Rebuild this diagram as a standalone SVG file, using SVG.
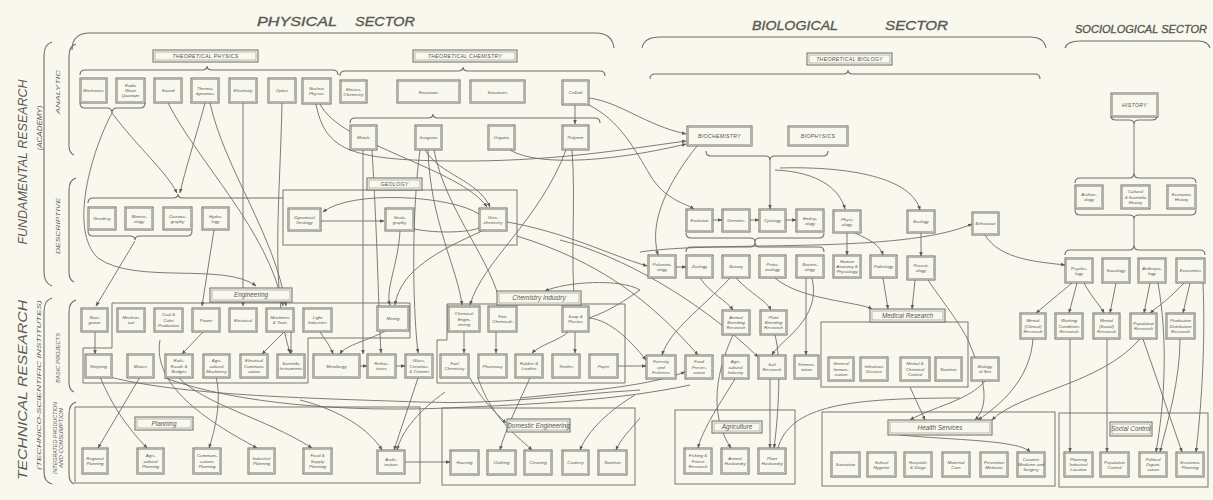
<svg xmlns="http://www.w3.org/2000/svg" width="1213" height="500" viewBox="0 0 1213 500">
<defs>
<marker id="ah" viewBox="0 0 6 6" refX="5.5" refY="3" markerWidth="5" markerHeight="5" orient="auto"><path d="M0,0.6 L6,3 L0,5.4 Z" fill="#5d5d55"/></marker>
<style>
.n{fill:#f9f8ee;stroke:#6b6b63;stroke-width:1}
.ni{fill:none;stroke:#8d8d85;stroke-width:0.6}
.t{font-family:"Liberation Sans",Arial,sans-serif;font-size:4.4px;font-style:italic;fill:#55554f;text-anchor:middle}
.lb{font-family:"Liberation Sans",Arial,sans-serif;font-size:5.2px;font-style:italic;fill:#55554f;text-anchor:middle;letter-spacing:0.3px}
.lw{font-family:"Liberation Sans",Arial,sans-serif;font-size:6.4px;font-style:italic;fill:#55554f;text-anchor:middle}
.c{fill:none;stroke:#6e6e66;stroke-width:0.9}
.a{marker-end:url(#ah)}
.br{fill:none;stroke:#6e6e66;stroke-width:1.1}
.box{fill:none;stroke:#77776f;stroke-width:1}
.hd{font-family:"Liberation Sans",Arial,sans-serif;font-style:italic;fill:#5a5a54;stroke:#5a5a54;stroke-width:0.35}
.sd{font-family:"Liberation Sans",Arial,sans-serif;font-style:italic;fill:#5a5a54;text-anchor:middle}
</style>
</defs>
<rect width="1213" height="500" fill="#f9f8ee"/>

<!-- headers -->
<g id="headers">
<text class="hd" x="257" y="26" font-size="12.5" textLength="80" lengthAdjust="spacingAndGlyphs">PHYSICAL</text>
<text class="hd" x="355" y="26" font-size="12.5" textLength="60" lengthAdjust="spacingAndGlyphs">SECTOR</text>
<text class="hd" x="752" y="30" font-size="13" textLength="86" lengthAdjust="spacingAndGlyphs">BIOLOGICAL</text>
<text class="hd" x="885" y="30" font-size="13" textLength="63" lengthAdjust="spacingAndGlyphs">SECTOR</text>
<text class="hd" x="1075" y="33" font-size="10" stroke-width="0.15" textLength="132" lengthAdjust="spacingAndGlyphs">SOCIOLOGICAL SECTOR</text>
<text class="sd" font-size="12" transform="translate(27,162) rotate(-90)" textLength="165" lengthAdjust="spacingAndGlyphs">FUNDAMENTAL    RESEARCH</text>
<text class="sd" font-size="6.5" transform="translate(42,128) rotate(-90)" textLength="45" lengthAdjust="spacingAndGlyphs">(ACADEMY)</text>
<text class="sd" font-size="12" transform="translate(27,390) rotate(-90)" textLength="180" lengthAdjust="spacingAndGlyphs">TECHNICAL    RESEARCH</text>
<text class="sd" font-size="6" transform="translate(41,385) rotate(-90)" textLength="170" lengthAdjust="spacingAndGlyphs">(TECHNICO-SCIENTIFIC INSTITUTES)</text>
<text class="sd" font-size="5" transform="translate(60,92) rotate(-90)" textLength="44" lengthAdjust="spacingAndGlyphs">ANALYTIC</text>
<text class="sd" font-size="5" transform="translate(60,226) rotate(-90)" textLength="56" lengthAdjust="spacingAndGlyphs">DESCRIPTIVE</text>
<text class="sd" font-size="5" transform="translate(60,358) rotate(-90)" textLength="50" lengthAdjust="spacingAndGlyphs">BASIC PROJECTS</text>
<text class="sd" font-size="4.8" transform="translate(57,438) rotate(-90)" textLength="72" lengthAdjust="spacingAndGlyphs">INTEGRATED PRODUCTION</text>
<text class="sd" font-size="4.8" transform="translate(63,438) rotate(-90)" textLength="60" lengthAdjust="spacingAndGlyphs">AND CONSUMPTION</text>
</g>

<!-- brackets and boxes -->
<g id="brackets">
<path class="br" d="M72,50 Q72,33 90,33 H596 Q612,33 614,48"/>
<path class="br" d="M642,48 Q644,37 660,37 H1030 Q1044,37 1046,48"/>
<path class="br" d="M1065,48 Q1067,41 1080,41 H1198 Q1208,41 1210,48"/>
<path class="br" d="M52,42 Q44,44 44,56 V272 Q44,283 52,286"/>
<path class="br" d="M76,44 Q69,46 69,56 V146 Q69,153 74,155"/>
<path class="br" d="M76,178 Q69,180 69,190 V272 Q69,280 74,282"/>
<path class="br" d="M52,298 Q44,300 44,312 V472 Q44,482 52,484"/>
<path class="br" d="M76,300 Q69,302 69,312 V382 Q69,390 74,392"/>
<path class="br" d="M76,402 Q69,404 69,414 V474 Q69,482 74,484"/>
<path class="br" d="M80,75 Q80,70 85,70 H202 Q207,70 207,66 Q207,70 212,70 H333 Q338,70 338,75"/>
<path class="br" d="M80,103 Q80,108 85,108 H107 Q112,108 112,113 Q112,108 117,108 H140 Q145,108 145,103"/>
<path class="br" d="M340,76 Q340,71 345,71 H458 Q463,71 463,67 Q463,71 468,71 H600 Q605,71 605,76"/>
<path class="br" d="M350,123 Q350,118 355,118 H428 Q433,118 433,114 Q433,118 438,118 H595 Q600,118 600,123"/>
<path class="br" d="M650,79 Q650,74 655,74 H843 Q848,74 848,70 Q848,74 853,74 H1035 Q1040,74 1040,79"/>
<path class="br" d="M706,151 Q706,156 711,156 H765 Q770,156 770,160 Q770,156 775,156 H823 Q828,156 828,151"/>
<path class="br" d="M686,233 Q686,238 691,238 H750 Q755,238 755,242 Q755,238 760,238 H819 Q824,238 824,233"/>
<path class="br" d="M686,252 Q686,247 691,247 H750 Q755,247 755,242 Q755,247 760,247 H819 Q824,247 824,252"/>
<path class="br" d="M88,203 Q88,198 93,198 H173 Q178,198 178,194 Q178,198 183,198 H283"/>
<path class="br" d="M88,231 Q88,236 93,236 H130 Q135,236 135,240 Q135,236 140,236 H187 Q192,236 192,231"/>
<path class="br" d="M1111,116 Q1111,120 1116,120 H1129 Q1134,120 1134,124 Q1134,120 1139,120 H1152 Q1157,120 1157,116"/>
<path class="c" d="M1134,124 V173"/>
<path class="br" d="M1075,183 Q1075,178 1080,178 H1129 Q1134,178 1134,173 Q1134,178 1139,178 H1191 Q1196,178 1196,183"/>
<path class="br" d="M1075,210 Q1075,215 1080,215 H1129 Q1134,215 1134,219 Q1134,215 1139,215 H1191 Q1196,215 1196,210"/>
<path class="c" d="M1134,219 V245"/>
<path class="br" d="M1065,255 Q1065,250 1070,250 H1129 Q1134,250 1134,245 Q1134,250 1139,250 H1200 Q1205,250 1205,255"/>
<rect class="box" x="283" y="190" width="234" height="55"/>
<path class="box" d="M112,303 H410 V338 H308 V383 H83 V348 H112 Z"/>
<path class="box" d="M447,304 H625 V383 H437 V340 H447 Z"/>
<rect class="box" x="75" y="407" width="345" height="76"/>
<rect class="box" x="442" y="408" width="193" height="77"/>
<rect class="box" x="675" y="410" width="120" height="74"/>
<rect class="box" x="822" y="412" width="233" height="74"/>
<rect class="box" x="1059" y="413" width="149" height="74"/>
<rect class="box" x="821" y="322" width="147" height="65"/>
</g>

<g id="connectors">
<path class="c a" d="M112,113 C92,150 68,230 98,258 C135,285 225,262 256,286"/>
<path class="c a" d="M112,113 C140,150 165,170 177,193"/>
<path class="c a" d="M205,103 C195,140 185,170 180,193"/>
<path class="c a" d="M210,103 C225,170 275,235 286,306"/>
<path class="c a" d="M168,103 C200,165 268,230 283,306"/>
<path class="c a" d="M243,103 V306"/>
<path class="c a" d="M282,103 C280,200 270,290 290,353"/>
<path class="c a" d="M135,241 L96,306"/>
<path class="c a" d="M214,230 L202,306"/>
<path class="c a" d="M321,221 H384"/>
<path class="c a" d="M479,214 C450,195 350,190 323,212"/>
<path class="c" d="M414,229 C440,234 470,232 479,228"/>
<path class="c a" d="M400,231 C398,265 385,290 390,305"/>
<path class="c a" d="M482,231 C440,250 400,270 395,305"/>
<path class="c a" d="M507,222 C565,232 610,255 647,266"/>
<path class="c a" d="M316,104 C325,150 350,160 450,161 C550,162 620,150 686,141"/>
<path class="c a" d="M575,105 V124"/>
<path class="c a" d="M589,98 C620,102 645,125 686,134"/>
<path class="c a" d="M587,104 C620,120 635,150 650,175 C665,200 685,203 694,209"/>
<path class="c a" d="M510,150 C540,168 620,160 686,144"/>
<path class="c a" d="M572,150 C576,200 570,260 575,305"/>
<path class="c a" d="M566,150 C540,220 482,262 470,305"/>
<path class="c a" d="M428,150 C430,220 458,270 462,305"/>
<path class="c a" d="M434,150 C445,210 495,265 500,305"/>
<path class="c a" d="M363,150 V354"/>
<path class="c a" d="M420,150 C412,210 412,300 418,353"/>
<path class="c a" d="M372,150 C378,250 378,300 381,353"/>
<path class="c a" d="M425,150 C440,175 478,180 490,207"/>
<path class="c a" d="M320,104 C340,145 460,168 487,207"/>
<path class="c a" d="M464,332 V353"/>
<path class="c a" d="M496,332 V353"/>
<path class="c a" d="M575,332 V353"/>
<path class="c a" d="M568,332 C560,340 540,345 532,353"/>
<path class="c a" d="M385,331 C370,340 345,345 340,354"/>
<path class="c a" d="M320,332 C325,340 330,345 333,354"/>
<path class="c a" d="M360,366 H367"/>
<path class="c a" d="M396,366 H405"/>
<path class="c a" d="M284,332 L262,354"/>
<path class="c a" d="M291,332 L291,354"/>
<path class="c a" d="M203,332 L182,354"/>
<path class="c a" d="M95,332 V354"/>
<path class="c a" d="M140,377 L98,448"/>
<path class="c a" d="M100,377 C112,405 125,425 147,448"/>
<path class="c a" d="M216,377 C222,400 215,430 209,448"/>
<path class="c a" d="M160,340 C152,385 205,420 257,448"/>
<path class="c a" d="M178,377 C205,405 265,418 312,448"/>
<path class="c" d="M110,377 C180,395 300,398 420,402 C500,405 560,395 640,390"/>
<path class="c" d="M165,378 C240,405 350,412 447,408 C540,404 620,400 690,385"/>
<path class="c a" d="M300,400 C340,410 370,430 382,450"/>
<path class="c a" d="M418,378 L394,450"/>
<path class="c a" d="M445,392 C420,410 402,430 397,450"/>
<path class="c a" d="M405,462 H450"/>
<path class="c a" d="M530,378 C520,400 505,430 500,450"/>
<path class="c a" d="M470,378 C480,398 495,412 506,423"/>
<path class="c a" d="M478,378 C492,420 522,440 532,450"/>
<path class="c a" d="M635,395 C610,410 588,430 580,450"/>
<path class="c a" d="M640,418 C630,430 620,440 616,450"/>
<path class="c a" d="M697,146 C670,180 648,220 658,255"/>
<path class="c a" d="M770,160 V209"/>
<path class="c a" d="M775,170 C820,172 840,190 845,209"/>
<path class="c a" d="M780,168 C850,166 912,178 920,210"/>
<path class="c a" d="M713,220 H722"/>
<path class="c a" d="M750,220 H759"/>
<path class="c a" d="M786,220 H796"/>
<path class="c a" d="M676,267 H686"/>
<path class="c a" d="M847,233 V255"/>
<path class="c a" d="M855,233 C870,240 880,245 883,255"/>
<path class="c a" d="M640,252 C720,240 900,255 972,224"/>
<path class="c a" d="M921,233 V256"/>
<path class="c a" d="M883,278 L888,309"/>
<path class="c a" d="M915,280 L912,309"/>
<path class="c a" d="M928,280 C945,305 965,330 970,345 C985,380 990,405 975,420"/>
<path class="c a" d="M985,235 C1000,260 1040,262 1065,265"/>
<path class="c a" d="M700,278 C712,295 726,300 733,310"/>
<path class="c a" d="M736,278 C752,295 766,300 771,310"/>
<path class="c a" d="M806,278 V355"/>
<path class="c a" d="M812,278 C822,320 780,340 772,355"/>
<path class="c a" d="M775,278 C800,300 860,302 872,309"/>
<path class="c a" d="M730,278 C700,310 670,330 662,355"/>
<path class="c a" d="M770,379 V448"/>
<path class="c a" d="M735,379 C722,400 702,430 698,448"/>
<path class="c a" d="M733,335 C712,380 712,420 731,448"/>
<path class="c a" d="M775,335 C782,360 778,420 774,448"/>
<path class="c a" d="M910,387 L925,420"/>
<path class="c a" d="M985,381 C970,400 930,408 910,420"/>
<path class="c a" d="M900,435 C950,440 1020,440 1030,452"/>
<path class="c" d="M778,448 C790,405 850,398 960,398"/>
<path class="c a" d="M1033,339 C1030,380 1000,405 978,420"/>
<path class="c a" d="M1070,339 V452"/>
<path class="c a" d="M1107,339 V452"/>
<path class="c a" d="M1143,339 L1182,452"/>
<path class="c a" d="M1180,339 C1180,380 1168,420 1160,452"/>
<path class="c a" d="M1203,283 C1206,350 1200,420 1196,452"/>
<path class="c a" d="M1140,339 C1100,385 1020,392 992,420"/>
<path class="c a" d="M1072,283 L1036,313"/>
<path class="c a" d="M1077,283 L1069,313"/>
<path class="c a" d="M1084,283 C1092,298 1100,305 1104,313"/>
<path class="c a" d="M1116,283 L1110,313"/>
<path class="c a" d="M1150,283 L1144,313"/>
<path class="c a" d="M1184,283 C1170,298 1160,305 1150,313"/>
<path class="c a" d="M1190,283 L1183,313"/>
<path class="c a" d="M1158,283 C1168,340 1165,400 1156,452"/>
<path class="c a" d="M589,318 C610,320 630,340 646,360"/>
<path class="c a" d="M618,366 H646"/>
<path class="c a" d="M560,240 C620,255 700,300 758,357"/>
<path class="c a" d="M517,236 C600,262 650,300 698,355"/>
<path class="c a" d="M640,290 C620,278 565,282 545,291"/>
<path class="c" d="M589,318 C612,310 625,300 640,290"/>
<path class="c a" d="M520,398 C600,390 650,385 685,372"/>
</g>

<g id="labels">
<g id="l-thphys"><rect class="n" x="153" y="50" width="105" height="12"/><rect class="ni" x="155" y="52" width="101" height="8"/><text class="lb" x="205.5" y="58.2">THEORETICAL PHYSICS</text></g>
<g id="l-thchem"><rect class="n" x="413" y="50" width="104" height="12"/><rect class="ni" x="415" y="52" width="100" height="8"/><text class="lb" x="465" y="58.2">THEORETICAL CHEMISTRY</text></g>
<g id="l-thbio"><rect class="n" x="807" y="53" width="85" height="12"/><rect class="ni" x="809" y="55" width="81" height="8"/><text class="lb" x="849.5" y="61.2">THEORETICAL BIOLOGY</text></g>
<g id="l-geology"><rect class="n" x="367" y="178" width="55" height="12"/><rect class="ni" x="369" y="180" width="51" height="8"/><text class="lb" x="394.5" y="186.2">GEOLOGY</text></g>
<g id="l-eng"><rect class="n" x="210" y="288" width="82" height="14"/><rect class="ni" x="212" y="290" width="78" height="10"/><text class="lw" x="251" y="297.3">Engineering</text></g>
<g id="l-chemind"><rect class="n" x="497" y="291" width="84" height="14"/><rect class="ni" x="499" y="293" width="80" height="10"/><text class="lw" x="539" y="300.3">Chemistry Industry</text></g>
<g id="l-planning"><rect class="n" x="135" y="417" width="58" height="13"/><rect class="ni" x="137" y="419" width="54" height="9"/><text class="lw" x="164" y="425.8">Planning</text></g>
<g id="l-domeng"><rect class="n" x="507" y="419" width="63" height="13"/><rect class="ni" x="509" y="421" width="59" height="9"/><text class="lw" x="538.5" y="427.8" font-size="5.6">Domestic Engineering</text></g>
<g id="l-agri"><rect class="n" x="712" y="421" width="50" height="12"/><rect class="ni" x="714" y="423" width="46" height="8"/><text class="lw" x="737" y="429.3" font-size="5.8">Agriculture</text></g>
<g id="l-health"><rect class="n" x="888" y="420" width="104" height="15"/><rect class="ni" x="890" y="422" width="100" height="11"/><text class="lw" x="940" y="430">Health   Services</text></g>
<g id="l-social"><rect class="n" x="1110" y="422" width="42" height="14"/><rect class="ni" x="1112" y="424" width="38" height="10"/><text class="lw" x="1131" y="431.3" font-size="5">Social Control</text></g>
<g id="l-medres"><rect class="n" x="870" y="309" width="75" height="13"/><rect class="ni" x="872" y="311" width="71" height="9"/><text class="lw" x="907.5" y="317.8" font-size="5.8">Medical Research</text></g>
</g>

<g id="nodes">
<g id="n-mechanics"><rect class="n" x="80" y="78" width="27" height="25"/><rect class="ni" x="81.5" y="79.5" width="24" height="22"/><text class="t" x="93.5" y="92.1">Mechanics</text></g>
<g id="n-radio"><rect class="n" x="116" y="78" width="29" height="25"/><rect class="ni" x="117.5" y="79.5" width="26" height="22"/><text class="t" x="130.5" y="86.9"><tspan x="130.5">Radio</tspan><tspan x="130.5" dy="5.2">Wave</tspan><tspan x="130.5" dy="5.2">Quantum</tspan></text></g>
<g id="n-sound"><rect class="n" x="154" y="78" width="28" height="25"/><rect class="ni" x="155.5" y="79.5" width="25" height="22"/><text class="t" x="168" y="92.1">Sound</text></g>
<g id="n-thermo"><rect class="n" x="191" y="78" width="28" height="25"/><rect class="ni" x="192.5" y="79.5" width="25" height="22"/><text class="t" x="205" y="89.5"><tspan x="205">Thermo-</tspan><tspan x="205" dy="5.2">dynamics</tspan></text></g>
<g id="n-electricity"><rect class="n" x="229" y="78" width="28" height="25"/><rect class="ni" x="230.5" y="79.5" width="25" height="22"/><text class="t" x="243" y="92.1" font-size="4">Electricity</text></g>
<g id="n-optics"><rect class="n" x="268" y="78" width="28" height="25"/><rect class="ni" x="269.5" y="79.5" width="25" height="22"/><text class="t" x="282" y="92.1">Optics</text></g>
<g id="n-nuclear"><rect class="n" x="302" y="78" width="29" height="26"/><rect class="ni" x="303.5" y="79.5" width="26" height="23"/><text class="t" x="316.5" y="90"><tspan x="316.5">Nuclear</tspan><tspan x="316.5" dy="5.2">Physics</tspan></text></g>
<g id="n-electrochem"><rect class="n" x="340" y="80" width="27" height="23"/><rect class="ni" x="341.5" y="81.5" width="24" height="20"/><text class="t" x="353.5" y="90.5"><tspan x="353.5">Electro-</tspan><tspan x="353.5" dy="5.2">Chemistry</tspan></text></g>
<g id="n-reactions"><rect class="n" x="397" y="80" width="63" height="23"/><rect class="ni" x="398.5" y="81.5" width="60" height="20"/><text class="t" x="428.5" y="93.5" font-size="6">Reactions</text></g>
<g id="n-structures"><rect class="n" x="470" y="80" width="55" height="23"/><rect class="ni" x="471.5" y="81.5" width="52" height="20"/><text class="t" x="497.5" y="93.5" font-size="6">Structures</text></g>
<g id="n-colloid"><rect class="n" x="562" y="80" width="27" height="25"/><rect class="ni" x="563.5" y="81.5" width="24" height="22"/><text class="t" x="575.5" y="94.1">Colloid</text></g>
<g id="n-metals"><rect class="n" x="350" y="125" width="27" height="25"/><rect class="ni" x="351.5" y="126.5" width="24" height="22"/><text class="t" x="363.5" y="139.1">Metals</text></g>
<g id="n-inorganic"><rect class="n" x="415" y="125" width="27" height="25"/><rect class="ni" x="416.5" y="126.5" width="24" height="22"/><text class="t" x="428.5" y="139.1">Inorganic</text></g>
<g id="n-organic"><rect class="n" x="488" y="125" width="27" height="25"/><rect class="ni" x="489.5" y="126.5" width="24" height="22"/><text class="t" x="501.5" y="139.1">Organic</text></g>
<g id="n-polymer"><rect class="n" x="562" y="125" width="27" height="25"/><rect class="ni" x="563.5" y="126.5" width="24" height="22"/><text class="t" x="575.5" y="139.1">Polymer</text></g>

<g id="n-geodesy"><rect class="n" x="88" y="207" width="28" height="23"/><rect class="ni" x="89.5" y="208.5" width="25" height="20"/><text class="t" x="102" y="220.1">Geodesy</text></g>
<g id="n-meteorology"><rect class="n" x="125" y="207" width="28" height="23"/><rect class="ni" x="126.5" y="208.5" width="25" height="20"/><text class="t" x="139" y="217.5"><tspan x="139">Meteor-</tspan><tspan x="139" dy="5.2">ology</tspan></text></g>
<g id="n-oceanography"><rect class="n" x="163" y="207" width="29" height="23"/><rect class="ni" x="164.5" y="208.5" width="26" height="20"/><text class="t" x="177.5" y="217.5"><tspan x="177.5">Oceano-</tspan><tspan x="177.5" dy="5.2">graphy</tspan></text></g>
<g id="n-hydrology"><rect class="n" x="202" y="207" width="27" height="23"/><rect class="ni" x="203.5" y="208.5" width="24" height="20"/><text class="t" x="215.5" y="217.5"><tspan x="215.5">Hydro-</tspan><tspan x="215.5" dy="5.2">logy</tspan></text></g>
<g id="n-dyngeo"><rect class="n" x="288" y="208" width="33" height="23"/><rect class="ni" x="289.5" y="209.5" width="30" height="20"/><text class="t" x="304.5" y="218.5"><tspan x="304.5">Dynamical</tspan><tspan x="304.5" dy="5.2">Geology</tspan></text></g>
<g id="n-strat"><rect class="n" x="385" y="208" width="29" height="23"/><rect class="ni" x="386.5" y="209.5" width="26" height="20"/><text class="t" x="399.5" y="218.5"><tspan x="399.5">Strati-</tspan><tspan x="399.5" dy="5.2">graphy</tspan></text></g>
<g id="n-geochem"><rect class="n" x="479" y="208" width="28" height="23"/><rect class="ni" x="480.5" y="209.5" width="25" height="20"/><text class="t" x="493" y="218.5"><tspan x="493">Geo-</tspan><tspan x="493" dy="5.2">chemistry</tspan></text></g>

<g id="n-navigation"><rect class="n" x="81" y="308" width="27" height="24"/><rect class="ni" x="82.5" y="309.5" width="24" height="21"/><text class="t" x="94.5" y="319"><tspan x="94.5">Navi-</tspan><tspan x="94.5" dy="5.2">gation</tspan></text></g>
<g id="n-mechanical"><rect class="n" x="117" y="308" width="28" height="24"/><rect class="ni" x="118.5" y="309.5" width="25" height="21"/><text class="t" x="131" y="319"><tspan x="131">Mechan-</tspan><tspan x="131" dy="5.2">ical</tspan></text></g>
<g id="n-coal"><rect class="n" x="154" y="308" width="29" height="24"/><rect class="ni" x="155.5" y="309.5" width="26" height="21"/><text class="t" x="168.5" y="316.4"><tspan x="168.5">Coal &amp;</tspan><tspan x="168.5" dy="5.2">Coke</tspan><tspan x="168.5" dy="5.2">Production</tspan></text></g>
<g id="n-power"><rect class="n" x="192" y="308" width="28" height="24"/><rect class="ni" x="193.5" y="309.5" width="25" height="21"/><text class="t" x="206" y="321.6">Power</text></g>
<g id="n-electrical"><rect class="n" x="229" y="308" width="28" height="24"/><rect class="ni" x="230.5" y="309.5" width="25" height="21"/><text class="t" x="243" y="321.6">Electrical</text></g>
<g id="n-machines"><rect class="n" x="266" y="308" width="28" height="24"/><rect class="ni" x="267.5" y="309.5" width="25" height="21"/><text class="t" x="280" y="319"><tspan x="280">Machines</tspan><tspan x="280" dy="5.2">&amp; Tools</tspan></text></g>
<g id="n-light"><rect class="n" x="303" y="308" width="29" height="24"/><rect class="ni" x="304.5" y="309.5" width="26" height="21"/><text class="t" x="317.5" y="319"><tspan x="317.5">Light</tspan><tspan x="317.5" dy="5.2">Industries</tspan></text></g>
<g id="n-mining"><rect class="n" x="377" y="306" width="32" height="25"/><rect class="ni" x="378.5" y="307.5" width="29" height="22"/><text class="t" x="393" y="320.1">Mining</text></g>
<g id="n-chemeng"><rect class="n" x="448" y="306" width="32" height="26"/><rect class="ni" x="449.5" y="307.5" width="29" height="23"/><text class="t" x="464" y="315.4"><tspan x="464">Chemical</tspan><tspan x="464" dy="5.2">Engin-</tspan><tspan x="464" dy="5.2">eering</tspan></text></g>
<g id="n-finechem"><rect class="n" x="488" y="306" width="29" height="26"/><rect class="ni" x="489.5" y="307.5" width="26" height="23"/><text class="t" x="502.5" y="318"><tspan x="502.5">Fine</tspan><tspan x="502.5" dy="5.2">Chemicals</tspan></text></g>
<g id="n-soap"><rect class="n" x="562" y="306" width="27" height="26"/><rect class="ni" x="563.5" y="307.5" width="24" height="23"/><text class="t" x="575.5" y="318"><tspan x="575.5">Soap &amp;</tspan><tspan x="575.5" dy="5.2">Plastics</tspan></text></g>

<g id="n-shipping"><rect class="n" x="85" y="354" width="27" height="24"/><rect class="ni" x="86.5" y="355.5" width="24" height="21"/><text class="t" x="98.5" y="367.6">Shipping</text></g>
<g id="n-motors"><rect class="n" x="127" y="354" width="27" height="24"/><rect class="ni" x="128.5" y="355.5" width="24" height="21"/><text class="t" x="140.5" y="367.6">Motors</text></g>
<g id="n-rails"><rect class="n" x="165" y="354" width="28" height="24"/><rect class="ni" x="166.5" y="355.5" width="25" height="21"/><text class="t" x="179" y="362.4"><tspan x="179">Rails,</tspan><tspan x="179" dy="5.2">Roads &amp;</tspan><tspan x="179" dy="5.2">Bridges</tspan></text></g>
<g id="n-agrimach"><rect class="n" x="203" y="354" width="27" height="24"/><rect class="ni" x="204.5" y="355.5" width="24" height="21"/><text class="t" x="216.5" y="362.4"><tspan x="216.5">Agri-</tspan><tspan x="216.5" dy="5.2">cultural</tspan><tspan x="216.5" dy="5.2">Machinery</tspan></text></g>
<g id="n-elcomm"><rect class="n" x="240" y="354" width="28" height="24"/><rect class="ni" x="241.5" y="355.5" width="25" height="21"/><text class="t" x="254" y="362.4"><tspan x="254">Electrical</tspan><tspan x="254" dy="5.2">Communi-</tspan><tspan x="254" dy="5.2">cation</tspan></text></g>
<g id="n-sciinst"><rect class="n" x="277" y="354" width="28" height="24"/><rect class="ni" x="278.5" y="355.5" width="25" height="21"/><text class="t" x="291" y="365" font-size="3.9"><tspan x="291">Scientific</tspan><tspan x="291" dy="5.2">Instruments</tspan></text></g>
<g id="n-metallurgy"><rect class="n" x="313" y="354" width="47" height="24"/><rect class="ni" x="314.5" y="355.5" width="44" height="21"/><text class="t" x="336.5" y="367.6">Metallurgy</text></g>
<g id="n-refract"><rect class="n" x="367" y="354" width="29" height="24"/><rect class="ni" x="368.5" y="355.5" width="26" height="21"/><text class="t" x="381.5" y="365"><tspan x="381.5">Refrac-</tspan><tspan x="381.5" dy="5.2">tories</tspan></text></g>
<g id="n-glass"><rect class="n" x="405" y="354" width="28" height="24"/><rect class="ni" x="406.5" y="355.5" width="25" height="21"/><text class="t" x="419" y="362.4"><tspan x="419">Glass,</tspan><tspan x="419" dy="5.2">Ceramics</tspan><tspan x="419" dy="5.2">&amp; Cement</tspan></text></g>
<g id="n-fuel"><rect class="n" x="440" y="354" width="29" height="24"/><rect class="ni" x="441.5" y="355.5" width="26" height="21"/><text class="t" x="454.5" y="365"><tspan x="454.5">Fuel</tspan><tspan x="454.5" dy="5.2">Chemistry</tspan></text></g>
<g id="n-pharmacy"><rect class="n" x="478" y="354" width="29" height="24"/><rect class="ni" x="479.5" y="355.5" width="26" height="21"/><text class="t" x="492.5" y="367.6">Pharmacy</text></g>
<g id="n-rubber"><rect class="n" x="515" y="354" width="28" height="24"/><rect class="ni" x="516.5" y="355.5" width="25" height="21"/><text class="t" x="529" y="365"><tspan x="529">Rubber &amp;</tspan><tspan x="529" dy="5.2">Leather</tspan></text></g>
<g id="n-textiles"><rect class="n" x="552" y="354" width="28" height="24"/><rect class="ni" x="553.5" y="355.5" width="25" height="21"/><text class="t" x="566" y="367.6">Textiles</text></g>
<g id="n-paper"><rect class="n" x="589" y="354" width="29" height="24"/><rect class="ni" x="590.5" y="355.5" width="26" height="21"/><text class="t" x="603.5" y="367.6">Paper</text></g>

<g id="n-regional"><rect class="n" x="82" y="448" width="26" height="26"/><rect class="ni" x="83.5" y="449.5" width="23" height="23"/><text class="t" x="95" y="460"><tspan x="95">Regional</tspan><tspan x="95" dy="5.2">Planning</tspan></text></g>
<g id="n-agriplan"><rect class="n" x="137" y="448" width="27" height="26"/><rect class="ni" x="138.5" y="449.5" width="24" height="23"/><text class="t" x="150.5" y="457.4"><tspan x="150.5">Agri-</tspan><tspan x="150.5" dy="5.2">cultural</tspan><tspan x="150.5" dy="5.2">Planning</tspan></text></g>
<g id="n-commplan"><rect class="n" x="193" y="448" width="28" height="26"/><rect class="ni" x="194.5" y="449.5" width="25" height="23"/><text class="t" x="207" y="457.4"><tspan x="207">Communi-</tspan><tspan x="207" dy="5.2">cations</tspan><tspan x="207" dy="5.2">Planning</tspan></text></g>
<g id="n-indplan"><rect class="n" x="248" y="448" width="27" height="26"/><rect class="ni" x="249.5" y="449.5" width="24" height="23"/><text class="t" x="261.5" y="460"><tspan x="261.5">Industrial</tspan><tspan x="261.5" dy="5.2">Planning</tspan></text></g>
<g id="n-foodplan"><rect class="n" x="303" y="448" width="29" height="26"/><rect class="ni" x="304.5" y="449.5" width="26" height="23"/><text class="t" x="317.5" y="457.4"><tspan x="317.5">Food &amp;</tspan><tspan x="317.5" dy="5.2">Supply</tspan><tspan x="317.5" dy="5.2">Planning</tspan></text></g>
<g id="n-architecture"><rect class="n" x="377" y="450" width="28" height="24"/><rect class="ni" x="378.5" y="451.5" width="25" height="21"/><text class="t" x="391" y="461"><tspan x="391">Archi-</tspan><tspan x="391" dy="5.2">tecture</tspan></text></g>

<g id="n-housing"><rect class="n" x="450" y="450" width="29" height="25"/><rect class="ni" x="451.5" y="451.5" width="26" height="22"/><text class="t" x="464.5" y="464.1">Housing</text></g>
<g id="n-clothing"><rect class="n" x="487" y="450" width="29" height="25"/><rect class="ni" x="488.5" y="451.5" width="26" height="22"/><text class="t" x="501.5" y="464.1">Clothing</text></g>
<g id="n-cleaning"><rect class="n" x="524" y="450" width="28" height="25"/><rect class="ni" x="525.5" y="451.5" width="25" height="22"/><text class="t" x="538" y="464.1">Cleaning</text></g>
<g id="n-cookery"><rect class="n" x="562" y="450" width="27" height="25"/><rect class="ni" x="563.5" y="451.5" width="24" height="22"/><text class="t" x="575.5" y="464.1">Cookery</text></g>
<g id="n-nutrition"><rect class="n" x="598" y="450" width="29" height="25"/><rect class="ni" x="599.5" y="451.5" width="26" height="22"/><text class="t" x="612.5" y="464.1">Nutrition</text></g>

<g id="n-fishres"><rect class="n" x="684" y="448" width="28" height="26"/><rect class="ni" x="685.5" y="449.5" width="25" height="23"/><text class="t" x="698" y="457.4"><tspan x="698">Fishing &amp;</tspan><tspan x="698" dy="5.2">Forest</tspan><tspan x="698" dy="5.2">Research</tspan></text></g>
<g id="n-animhus"><rect class="n" x="721" y="448" width="28" height="26"/><rect class="ni" x="722.5" y="449.5" width="25" height="23"/><text class="t" x="735" y="460"><tspan x="735">Animal</tspan><tspan x="735" dy="5.2">Husbandry</tspan></text></g>
<g id="n-planthus"><rect class="n" x="758" y="448" width="28" height="26"/><rect class="ni" x="759.5" y="449.5" width="25" height="23"/><text class="t" x="772" y="460"><tspan x="772">Plant</tspan><tspan x="772" dy="5.2">Husbandry</tspan></text></g>

<g id="n-sanitation"><rect class="n" x="831" y="452" width="29" height="25"/><rect class="ni" x="832.5" y="453.5" width="26" height="22"/><text class="t" x="845.5" y="466.1">Sanitation</text></g>
<g id="n-hygiene"><rect class="n" x="867" y="452" width="29" height="25"/><rect class="ni" x="868.5" y="453.5" width="26" height="22"/><text class="t" x="881.5" y="463.5"><tspan x="881.5">School</tspan><tspan x="881.5" dy="5.2">Hygiene</tspan></text></g>
<g id="n-drugs"><rect class="n" x="904" y="452" width="28" height="25"/><rect class="ni" x="905.5" y="453.5" width="25" height="22"/><text class="t" x="918" y="463.5"><tspan x="918">Hospitals</tspan><tspan x="918" dy="5.2">&amp; Drugs</tspan></text></g>
<g id="n-maternal"><rect class="n" x="942" y="452" width="28" height="25"/><rect class="ni" x="943.5" y="453.5" width="25" height="22"/><text class="t" x="956" y="463.5"><tspan x="956">Maternal</tspan><tspan x="956" dy="5.2">Care</tspan></text></g>
<g id="n-preventive"><rect class="n" x="980" y="452" width="28" height="25"/><rect class="ni" x="981.5" y="453.5" width="25" height="22"/><text class="t" x="994" y="463.5"><tspan x="994">Preventive</tspan><tspan x="994" dy="5.2">Medicine</tspan></text></g>
<g id="n-curative"><rect class="n" x="1017" y="452" width="28" height="25"/><rect class="ni" x="1018.5" y="453.5" width="25" height="22"/><text class="t" x="1031" y="460.9"><tspan x="1031">Curative</tspan><tspan x="1031" dy="5.2">Medicine and</tspan><tspan x="1031" dy="5.2">Surgery</tspan></text></g>

<g id="n-indloc"><rect class="n" x="1064" y="452" width="29" height="25"/><rect class="ni" x="1065.5" y="453.5" width="26" height="22"/><text class="t" x="1078.5" y="460.9"><tspan x="1078.5">Planning</tspan><tspan x="1078.5" dy="5.2">Industrial</tspan><tspan x="1078.5" dy="5.2">Location</tspan></text></g>
<g id="n-popctrl"><rect class="n" x="1100" y="452" width="29" height="25"/><rect class="ni" x="1101.5" y="453.5" width="26" height="22"/><text class="t" x="1114.5" y="463.5"><tspan x="1114.5">Population</tspan><tspan x="1114.5" dy="5.2">Control</tspan></text></g>
<g id="n-polorg"><rect class="n" x="1139" y="452" width="28" height="25"/><rect class="ni" x="1140.5" y="453.5" width="25" height="22"/><text class="t" x="1153" y="460.9"><tspan x="1153">Political</tspan><tspan x="1153" dy="5.2">Organi-</tspan><tspan x="1153" dy="5.2">sation</tspan></text></g>
<g id="n-econplan"><rect class="n" x="1176" y="452" width="28" height="25"/><rect class="ni" x="1177.5" y="453.5" width="25" height="22"/><text class="t" x="1190" y="463.5"><tspan x="1190">Economic</tspan><tspan x="1190" dy="5.2">Planning</tspan></text></g>

<g id="n-forestry"><rect class="n" x="646" y="355" width="30" height="24"/><rect class="ni" x="647.5" y="356.5" width="27" height="21"/><text class="t" x="661" y="363.4"><tspan x="661">Forestry</tspan><tspan x="661" dy="5.2">and</tspan><tspan x="661" dy="5.2">Fisheries</tspan></text></g>
<g id="n-foodpres"><rect class="n" x="685" y="355" width="28" height="24"/><rect class="ni" x="686.5" y="356.5" width="25" height="21"/><text class="t" x="699" y="363.4"><tspan x="699">Food</tspan><tspan x="699" dy="5.2">Preser-</tspan><tspan x="699" dy="5.2">vation</tspan></text></g>
<g id="n-agriind"><rect class="n" x="722" y="355" width="27" height="24"/><rect class="ni" x="723.5" y="356.5" width="24" height="21"/><text class="t" x="735.5" y="363.4"><tspan x="735.5">Agri-</tspan><tspan x="735.5" dy="5.2">cultural</tspan><tspan x="735.5" dy="5.2">Industry</tspan></text></g>
<g id="n-soil"><rect class="n" x="758" y="355" width="28" height="24"/><rect class="ni" x="759.5" y="356.5" width="25" height="21"/><text class="t" x="772" y="366"><tspan x="772">Soil</tspan><tspan x="772" dy="5.2">Research</tspan></text></g>
<g id="n-ferment"><rect class="n" x="794" y="355" width="25" height="24"/><rect class="ni" x="795.5" y="356.5" width="22" height="21"/><text class="t" x="806.5" y="366"><tspan x="806.5">Fermen-</tspan><tspan x="806.5" dy="5.2">tation</tspan></text></g>
<g id="n-immun"><rect class="n" x="828" y="357" width="26" height="24"/><rect class="ni" x="829.5" y="358.5" width="23" height="21"/><text class="t" x="841" y="365.4"><tspan x="841">General</tspan><tspan x="841" dy="5.2">Immun-</tspan><tspan x="841" dy="5.2">isation</tspan></text></g>
<g id="n-infect"><rect class="n" x="860" y="357" width="28" height="24"/><rect class="ni" x="861.5" y="358.5" width="25" height="21"/><text class="t" x="874" y="368"><tspan x="874">Infectious</tspan><tspan x="874" dy="5.2">Disease</tspan></text></g>
<g id="n-mentalchem"><rect class="n" x="900" y="357" width="30" height="24"/><rect class="ni" x="901.5" y="358.5" width="27" height="21"/><text class="t" x="915" y="365.4"><tspan x="915">Mental &amp;</tspan><tspan x="915" dy="5.2">Chemical</tspan><tspan x="915" dy="5.2">Control</tspan></text></g>
<g id="n-nutr2"><rect class="n" x="935" y="357" width="27" height="24"/><rect class="ni" x="936.5" y="358.5" width="24" height="21"/><text class="t" x="948.5" y="370.6">Nutrition</text></g>
<g id="n-sexbio"><rect class="n" x="971" y="357" width="28" height="24"/><rect class="ni" x="972.5" y="358.5" width="25" height="21"/><text class="t" x="985" y="368"><tspan x="985">Biology</tspan><tspan x="985" dy="5.2">of Sex</tspan></text></g>

<g id="n-animbreed"><rect class="n" x="722" y="310" width="28" height="25"/><rect class="ni" x="723.5" y="311.5" width="25" height="22"/><text class="t" x="736" y="318.9"><tspan x="736">Animal</tspan><tspan x="736" dy="5.2">Breeding</tspan><tspan x="736" dy="5.2">Research</tspan></text></g>
<g id="n-plantbreed"><rect class="n" x="760" y="310" width="27" height="25"/><rect class="ni" x="761.5" y="311.5" width="24" height="22"/><text class="t" x="773.5" y="318.9"><tspan x="773.5">Plant</tspan><tspan x="773.5" dy="5.2">Breeding</tspan><tspan x="773.5" dy="5.2">Research</tspan></text></g>

<g id="n-evolution"><rect class="n" x="686" y="209" width="27" height="23"/><rect class="ni" x="687.5" y="210.5" width="24" height="20"/><text class="t" x="699.5" y="222.1">Evolution</text></g>
<g id="n-genetics"><rect class="n" x="722" y="209" width="28" height="23"/><rect class="ni" x="723.5" y="210.5" width="25" height="20"/><text class="t" x="736" y="222.1">Genetics</text></g>
<g id="n-cytology"><rect class="n" x="759" y="209" width="27" height="23"/><rect class="ni" x="760.5" y="210.5" width="24" height="20"/><text class="t" x="772.5" y="222.1">Cytology</text></g>
<g id="n-embryology"><rect class="n" x="796" y="209" width="28" height="23"/><rect class="ni" x="797.5" y="210.5" width="25" height="20"/><text class="t" x="810" y="219.5"><tspan x="810">Embry-</tspan><tspan x="810" dy="5.2">ology</tspan></text></g>
<g id="n-physiology"><rect class="n" x="833" y="210" width="28" height="23"/><rect class="ni" x="834.5" y="211.5" width="25" height="20"/><text class="t" x="847" y="220.5"><tspan x="847">Physi-</tspan><tspan x="847" dy="5.2">ology</tspan></text></g>
<g id="n-ecology"><rect class="n" x="907" y="210" width="28" height="23"/><rect class="ni" x="908.5" y="211.5" width="25" height="20"/><text class="t" x="921" y="223.1">Ecology</text></g>
<g id="n-behaviour"><rect class="n" x="972" y="212" width="27" height="23"/><rect class="ni" x="973.5" y="213.5" width="24" height="20"/><text class="t" x="985.5" y="225.1">Behaviour</text></g>
<g id="n-palaeont"><rect class="n" x="648" y="255" width="28" height="23"/><rect class="ni" x="649.5" y="256.5" width="25" height="20"/><text class="t" x="662" y="265.5"><tspan x="662">Palaeont-</tspan><tspan x="662" dy="5.2">ology</tspan></text></g>
<g id="n-zoology"><rect class="n" x="686" y="255" width="27" height="23"/><rect class="ni" x="687.5" y="256.5" width="24" height="20"/><text class="t" x="699.5" y="268.1">Zoology</text></g>
<g id="n-botany"><rect class="n" x="722" y="255" width="28" height="23"/><rect class="ni" x="723.5" y="256.5" width="25" height="20"/><text class="t" x="736" y="268.1">Botany</text></g>
<g id="n-protozo"><rect class="n" x="759" y="255" width="27" height="23"/><rect class="ni" x="760.5" y="256.5" width="24" height="20"/><text class="t" x="772.5" y="265.5"><tspan x="772.5">Proto-</tspan><tspan x="772.5" dy="5.2">zoology</tspan></text></g>
<g id="n-bacteri"><rect class="n" x="796" y="255" width="28" height="23"/><rect class="ni" x="797.5" y="256.5" width="25" height="20"/><text class="t" x="810" y="265.5"><tspan x="810">Bacteri-</tspan><tspan x="810" dy="5.2">ology</tspan></text></g>
<g id="n-humanat"><rect class="n" x="833" y="255" width="28" height="23"/><rect class="ni" x="834.5" y="256.5" width="25" height="20"/><text class="t" x="847" y="262.9" font-size="4"><tspan x="847">Human</tspan><tspan x="847" dy="5.2">Anatomy &amp;</tspan><tspan x="847" dy="5.2">Physiology</tspan></text></g>
<g id="n-pathology"><rect class="n" x="870" y="255" width="27" height="23"/><rect class="ni" x="871.5" y="256.5" width="24" height="20"/><text class="t" x="883.5" y="268.1">Pathology</text></g>
<g id="n-parasit"><rect class="n" x="907" y="256" width="28" height="24"/><rect class="ni" x="908.5" y="257.5" width="25" height="21"/><text class="t" x="921" y="267"><tspan x="921">Parasit-</tspan><tspan x="921" dy="5.2">ology</tspan></text></g>

<g id="n-biochem"><rect class="n" x="687" y="126" width="65" height="20"/><rect class="ni" x="688.5" y="127.5" width="62" height="17"/><text class="lb" x="719.5" y="138.2">BIOCHEMISTRY</text></g>
<g id="n-biophysics"><rect class="n" x="788" y="126" width="60" height="20"/><rect class="ni" x="789.5" y="127.5" width="57" height="17"/><text class="lb" x="818" y="138.2">BIOPHYSICS</text></g>
<g id="n-history"><rect class="n" x="1111" y="93" width="47" height="24"/><rect class="ni" x="1112.5" y="94.5" width="44" height="21"/><text class="lb" x="1134.5" y="107">HISTORY</text></g>
<g id="n-archaeology"><rect class="n" x="1075" y="185" width="28" height="24"/><rect class="ni" x="1076.5" y="186.5" width="25" height="21"/><text class="t" x="1089" y="196"><tspan x="1089">Archae-</tspan><tspan x="1089" dy="5.2">ology</tspan></text></g>
<g id="n-cultural"><rect class="n" x="1121" y="185" width="29" height="24"/><rect class="ni" x="1122.5" y="186.5" width="26" height="21"/><text class="t" x="1135.5" y="193.4" font-size="4"><tspan x="1135.5">Cultural</tspan><tspan x="1135.5" dy="5.2">&amp; Scientific</tspan><tspan x="1135.5" dy="5.2">History</tspan></text></g>
<g id="n-econhist"><rect class="n" x="1167" y="185" width="29" height="24"/><rect class="ni" x="1168.5" y="186.5" width="26" height="21"/><text class="t" x="1181.5" y="196"><tspan x="1181.5">Economic</tspan><tspan x="1181.5" dy="5.2">History</tspan></text></g>
<g id="n-psychology"><rect class="n" x="1065" y="258" width="28" height="25"/><rect class="ni" x="1066.5" y="259.5" width="25" height="22"/><text class="t" x="1079" y="269.5"><tspan x="1079">Psycho-</tspan><tspan x="1079" dy="5.2">logy</tspan></text></g>
<g id="n-sociology"><rect class="n" x="1102" y="258" width="28" height="25"/><rect class="ni" x="1103.5" y="259.5" width="25" height="22"/><text class="t" x="1116" y="272.1">Sociology</text></g>
<g id="n-anthropology"><rect class="n" x="1138" y="258" width="28" height="25"/><rect class="ni" x="1139.5" y="259.5" width="25" height="22"/><text class="t" x="1152" y="269.5"><tspan x="1152">Anthropo-</tspan><tspan x="1152" dy="5.2">logy</tspan></text></g>
<g id="n-economics"><rect class="n" x="1176" y="258" width="29" height="25"/><rect class="ni" x="1177.5" y="259.5" width="26" height="22"/><text class="t" x="1190.5" y="272.1">Economics</text></g>
<g id="n-mentalclin"><rect class="n" x="1020" y="313" width="26" height="26"/><rect class="ni" x="1021.5" y="314.5" width="23" height="23"/><text class="t" x="1033" y="322.4"><tspan x="1033">Mental</tspan><tspan x="1033" dy="5.2">(Clinical)</tspan><tspan x="1033" dy="5.2">Research</tspan></text></g>
<g id="n-working"><rect class="n" x="1055" y="313" width="28" height="26"/><rect class="ni" x="1056.5" y="314.5" width="25" height="23"/><text class="t" x="1069" y="322.4"><tspan x="1069">Working</tspan><tspan x="1069" dy="5.2">Conditions</tspan><tspan x="1069" dy="5.2">Research</tspan></text></g>
<g id="n-mentalsoc"><rect class="n" x="1093" y="313" width="27" height="26"/><rect class="ni" x="1094.5" y="314.5" width="24" height="23"/><text class="t" x="1106.5" y="322.4"><tspan x="1106.5">Mental</tspan><tspan x="1106.5" dy="5.2">(Social)</tspan><tspan x="1106.5" dy="5.2">Research</tspan></text></g>
<g id="n-popres"><rect class="n" x="1130" y="313" width="27" height="26"/><rect class="ni" x="1131.5" y="314.5" width="24" height="23"/><text class="t" x="1143.5" y="325"><tspan x="1143.5">Population</tspan><tspan x="1143.5" dy="5.2">Research</tspan></text></g>
<g id="n-prodres"><rect class="n" x="1166" y="313" width="29" height="26"/><rect class="ni" x="1167.5" y="314.5" width="26" height="23"/><text class="t" x="1180.5" y="322.4" font-size="4"><tspan x="1180.5">Production</tspan><tspan x="1180.5" dy="5.2">Distribution</tspan><tspan x="1180.5" dy="5.2">Research</tspan></text></g>
</g>
</svg>
